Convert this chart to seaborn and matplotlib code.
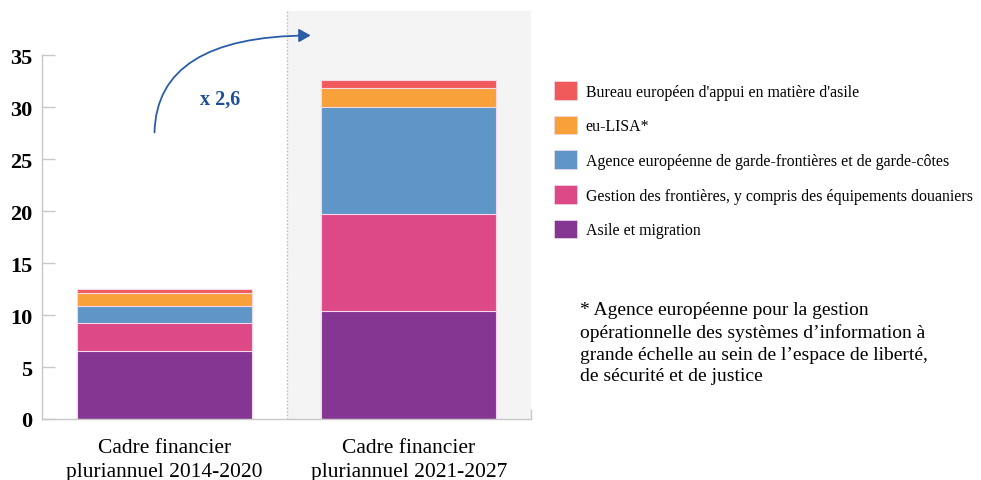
import numpy as np
import pandas as pd
import seaborn as sns
import matplotlib.pyplot as plt
from matplotlib.patches import FancyArrowPatch, Patch

# data (milliards d'euros)
periods = ["Cadre financier\npluriannuel 2014-2020", "Cadre financier\npluriannuel 2021-2027"]
asile = [6.5, 10.4]
gestion = [2.75, 9.3]
agence = [1.65, 10.3]
eulisa = [1.2, 1.8]
bureau = [0.4, 0.8]

series_names = ["Asile et migration",
                "Gestion des frontières, y compris des équipements douaniers",
                "Agence européenne de garde-frontières et de garde-côtes",
                "eu-LISA*",
                "Bureau européen d'appui en matière d'asile"]
colors = ["#853692", "#DC4986", "#5E96C8", "#F8A03A", "#F05A5A"]

y_ticks = [0, 5, 10, 15, 20, 25, 30, 35]
growth_label = "x 2,6"
footnote = ("* Agence européenne pour la gestion\n"
            "opérationnelle des systèmes d’information à\n"
            "grande échelle au sein de l’espace de liberté,\n"
            "de sécurité et de justice")

sns.set_style("white")
plt.rcParams['font.family'] = ['Liberation Serif', 'DejaVu Serif']
plt.rcParams['text.color'] = 'black'
plt.rcParams['xtick.color'] = 'black'
plt.rcParams['ytick.color'] = 'black'

fig = plt.figure(figsize=(9.81, 4.81), dpi=100)
ax = fig.add_axes([42 / 981, 61 / 481, 489 / 981, 408 / 481])

# grey panel behind the second period
ax.axvspan(0.5, 1.5, color="#F4F4F4", zorder=0, lw=0)
ax.axvline(0.5, color="#BBBBBB", ls=(0, (1, 1.5)), lw=1, zorder=1)

stack = np.array([asile, gestion, agence, eulisa, bureau])
cum = stack.cumsum(axis=0)
df = pd.DataFrame({"period": periods})
# draw from the top total down so each layer covers the one above
for i in range(len(series_names) - 1, -1, -1):
    df["v"] = cum[i]
    sns.barplot(data=df, x="period", y="v", color=colors[i], width=0.714,
                edgecolor="#F2D9EA", linewidth=0.8, saturation=1, ax=ax, zorder=2)

ax.set_xlim(-0.5, 1.5)
ax.set_ylim(0, 39.25)
ax.set_yticks(y_ticks)
ax.set_xlabel("")
ax.set_ylabel("")
for lab in ax.get_yticklabels():
    lab.set_fontweight("bold")
ax.tick_params(axis="y", direction="in", length=9, width=1, color="#C8C8C8",
               labelcolor="black", labelsize=16, pad=7, left=True)
ax.tick_params(axis="x", length=0, labelsize=15.5, labelcolor="black", pad=14)
for lab in ax.get_xticklabels():
    lab.set_linespacing(1.3)

ax.spines["top"].set_visible(False)
ax.spines["left"].set_bounds(0, 35)
ax.spines["right"].set_bounds(0, 0.85)
for side in ["left", "bottom", "right"]:
    ax.spines[side].set_color("#C8C8C8")
    ax.spines[side].set_linewidth(1)

# growth arrow
arrow = FancyArrowPatch((-0.04, 27.3), (0.61, 36.9),
                        connectionstyle="angle3,angleA=90,angleB=0",
                        arrowstyle="-|>,head_length=7,head_width=4",
                        color="#2A5CA8", lw=1.3, zorder=5, clip_on=False)
ax.add_patch(arrow)
ax.text(0.228, 30.8, growth_label, color="#1F4E9A", fontsize=14.5,
        fontweight="bold", ha="center", va="center")

handles = [Patch(facecolor=colors[i], edgecolor="#F2D9EA", lw=0.5)
           for i in range(len(series_names) - 1, -1, -1)]
labels = [series_names[i] for i in range(len(series_names) - 1, -1, -1)]
fig.legend(handles, labels, loc="upper left", bbox_to_anchor=(554 / 981, 1 - 82 / 481),
           frameon=False, fontsize=11.4, handlelength=1.44, handleheight=1.44,
           labelspacing=1.01, handletextpad=0.55, borderaxespad=0, borderpad=0,
           labelcolor="black")

fig.text(580 / 981, 1 - 302 / 481, footnote, fontsize=14, va="top", ha="left",
         linespacing=1.36)

fig.savefig("out.png", dpi=100)
